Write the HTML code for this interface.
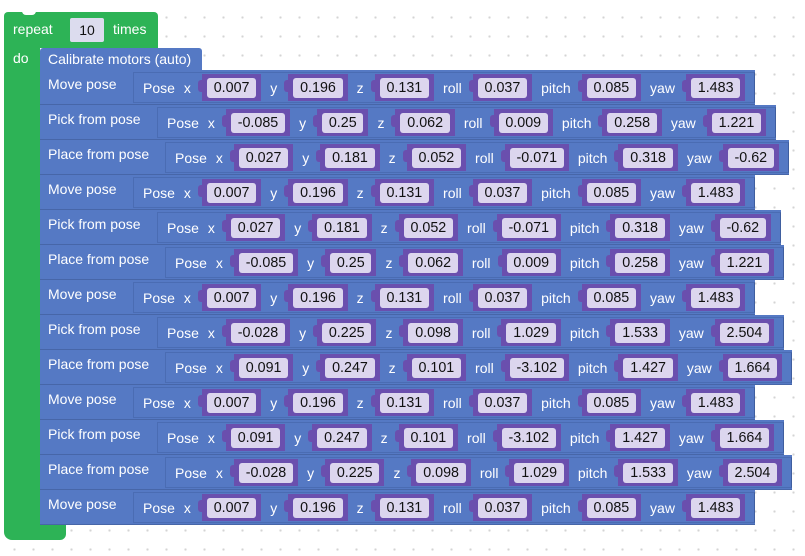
<!DOCTYPE html>
<html><head><meta charset="utf-8"><style>
body{margin:0;width:805px;height:556px;overflow:hidden;background:#fff;
background-image:radial-gradient(#d4d4d4 1px,transparent 1.3px);background-size:19px 19px;background-position:5px 8px;
font-family:"Liberation Sans",sans-serif;font-size:14px;color:#fff;position:relative}
.abs{position:absolute}
.green{background:#2db356}
.outer{position:absolute;background:#5579c4;height:35px;border-bottom:1px solid #4766a8;box-sizing:border-box}
.lbl{position:absolute;left:8px;top:6px;white-space:nowrap}
.inner{position:absolute;top:2px;height:31px;background:#5579c4;border:1px solid #4a6cb3;border-right-color:#3f5e9f;box-sizing:border-box;display:flex;align-items:center;padding-left:9px;white-space:nowrap}
.inner span.t{margin-right:9px}
.f{background:#6a4fae;height:27px;display:flex;align-items:center;padding:0 5px;margin-right:9px;margin-left:2px;position:relative;box-sizing:border-box}
.f:before{content:"";position:absolute;left:-4px;top:6px;width:5px;height:12px;background:#6a4fae;border-radius:3px 0 0 3px}
.f span{background:#dcd6ee;color:#111;padding:1px 6.8px;border-radius:3px;line-height:18px;font-size:14.3px}
</style></head><body>
<div class="abs green" style="left:4px;top:12px;width:154px;height:36px;border-radius:4px 4px 0 0"></div>
<div class="abs" style="left:22px;top:11px;width:14px;height:4px;background:#fff;border-radius:0 0 6px 6px"></div>
<div class="abs green" style="left:4px;top:47px;width:36px;height:480px"></div>
<div class="abs green" style="left:4px;top:522px;width:62px;height:18px;border-radius:0 0 6px 8px"></div>
<div class="abs" style="left:13px;top:21px">repeat</div>
<div class="abs" style="left:70px;top:18px;width:34px;height:24px;background:#dcdcee;color:#111;text-align:center;line-height:24px;border-radius:2px">10</div>
<div class="abs" style="left:113px;top:21px">times</div>
<div class="abs" style="left:13px;top:50px">do</div>
<div class="outer" style="left:40px;top:48px;width:162px;height:23px;border-radius:3px 3px 0 0"><div class="lbl" style="top:3px">Calibrate motors (auto)</div></div>
<div id="rows"></div>
<script>
const rowTypes=["Move pose","Pick from pose","Place from pose","Move pose","Pick from pose","Place from pose","Move pose","Pick from pose","Place from pose","Move pose","Pick from pose","Place from pose","Move pose"];
const xs=["0.007","-0.085","0.027","0.007","0.027","-0.085","0.007","-0.028","0.091","0.007","0.091","-0.028","0.007"];
const ys=["0.196","0.25","0.181","0.196","0.181","0.25","0.196","0.225","0.247","0.196","0.247","0.225","0.196"];
const zs=["0.131","0.062","0.052","0.131","0.052","0.062","0.131","0.098","0.101","0.131","0.101","0.098","0.131"];
const rolls=["0.037","0.009","-0.071","0.037","-0.071","0.009","0.037","1.029","-3.102","0.037","-3.102","1.029","0.037"];
const pitches=["0.085","0.258","0.318","0.085","0.318","0.258","0.085","1.533","1.427","0.085","1.427","1.533","0.085"];
const yaws=["1.483","1.221","-0.62","1.483","-0.62","1.221","1.483","2.504","1.664","1.483","1.664","2.504","1.483"];
const innerX={"Move pose":93,"Pick from pose":117,"Place from pose":125};
const root=document.getElementById('rows');
rowTypes.forEach((t,i)=>{
  const o=document.createElement('div');o.className='outer';
  
  
  o.style.left='40px';o.style.top=(70+i*35)+'px';
  const l=document.createElement('div');l.className='lbl';l.textContent=t;
  
  
  o.appendChild(l);
  const inn=document.createElement('div');inn.className='inner';inn.style.left=innerX[t]+'px';
  
  
  let h='<span class="t">Pose</span>';
  [["x",xs],["y",ys],["z",zs],["roll",rolls],["pitch",pitches],["yaw",yaws]].forEach(([n,a])=>{
    h+='<span class="t">'+n+'</span><div class="f"><span>'+a[i]+'</span></div>';
  });
  inn.innerHTML=h;o.appendChild(inn);root.appendChild(o);
  o.style.width=(innerX[t]+inn.offsetWidth)+'px';
});
</script>
</body></html>
